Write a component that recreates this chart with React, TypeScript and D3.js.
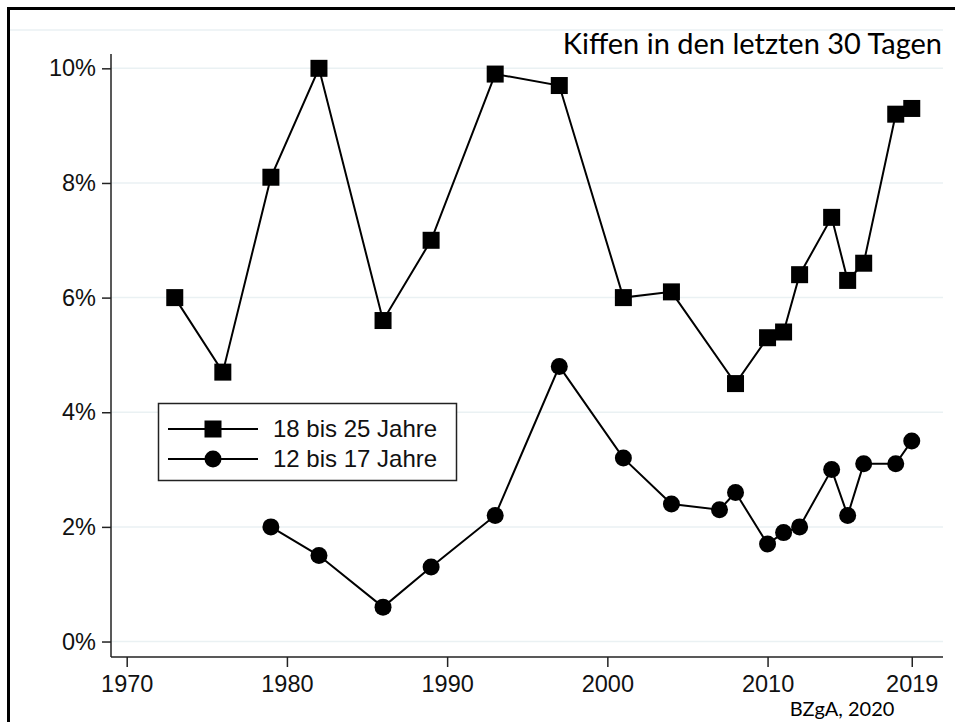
import React, { useEffect, useRef } from 'react';
import * as d3 from 'd3';

// years and values (percent) for both age groups
const yearsOlder = [1973, 1976, 1979, 1982, 1986, 1989, 1993, 1997, 2001, 2004, 2008, 2010, 2011, 2012, 2014, 2015, 2016, 2018, 2019];
const valuesOlder = [6.0, 4.7, 8.1, 10.0, 5.6, 7.0, 9.9, 9.7, 6.0, 6.1, 4.5, 5.3, 5.4, 6.4, 7.4, 6.3, 6.6, 9.2, 9.3];

const yearsYounger = [1979, 1982, 1986, 1989, 1993, 1997, 2001, 2004, 2007, 2008, 2010, 2011, 2012, 2014, 2015, 2016, 2018, 2019];
const valuesYounger = [2.0, 1.5, 0.6, 1.3, 2.2, 4.8, 3.2, 2.4, 2.3, 2.6, 1.7, 1.9, 2.0, 3.0, 2.2, 3.1, 3.1, 3.5];

const xTicks = [1970, 1980, 1990, 2000, 2010, 2019];
const yTicks = [0, 2, 4, 6, 8, 10];
const legendLabels = ['18 bis 25 Jahre', '12 bis 17 Jahre'];

const title = 'Kiffen in den letzten 30 Tagen';
const source = 'BZgA, 2020';

const App = () => {
  const svgRef = useRef(null);

  useEffect(() => {
    const svg = d3.select(svgRef.current);
    svg.selectAll('*').remove();

    const width = 955;
    const height = 722;
    const axisFont = 'Arial, "Liberation Sans", sans-serif';
    const textFont = 'Lato, "Open Sans", sans-serif';
    const gridColor = '#eaf1f3';

    // plot area
    const x = d3.scaleLinear().domain([1969.02, 2020.95]).range([111, 943]);
    const y = d3.scaleLinear().domain([-0.27, 10.25]).range([657, 54]);

    svg.append('rect').attr('width', width).attr('height', height).attr('fill', '#fff');

    // frame (left and top only visible)
    svg.append('path')
      .attr('d', `M8.5,${height + 5}V8.5H${width + 5}`)
      .attr('fill', 'none')
      .attr('stroke', '#000')
      .attr('stroke-width', 3);

    // faint outer line near top
    svg.append('line')
      .attr('x1', 10).attr('x2', 943)
      .attr('y1', 30).attr('y2', 30)
      .attr('stroke', gridColor).attr('stroke-width', 1.5);

    // gridlines
    svg.append('g')
      .selectAll('line')
      .data(yTicks)
      .join('line')
      .attr('x1', 111).attr('x2', 943)
      .attr('y1', d => y(d)).attr('y2', d => y(d))
      .attr('stroke', gridColor)
      .attr('stroke-width', 1.5);

    // y axis
    const yAxis = svg.append('g')
      .attr('transform', 'translate(111,0)')
      .call(d3.axisLeft(y).tickValues(yTicks).tickSize(9).tickPadding(6).tickFormat(d => `${d}%`));
    yAxis.select('.domain').attr('d', `M0,54V657`).attr('stroke', '#222').attr('stroke-width', 1.5);
    yAxis.selectAll('.tick line').attr('stroke', '#222').attr('stroke-width', 1.5);
    yAxis.selectAll('text')
      .attr('font-family', axisFont)
      .attr('font-size', 23.5)
      .attr('fill', '#111');

    // x axis
    const xAxis = svg.append('g')
      .attr('transform', 'translate(0,657)')
      .call(d3.axisBottom(x).tickValues(xTicks).tickSize(10).tickPadding(8).tickFormat(d3.format('d')));
    xAxis.select('.domain').attr('d', `M111,0H943`).attr('stroke', '#222').attr('stroke-width', 1.5);
    xAxis.selectAll('.tick line').attr('stroke', '#222').attr('stroke-width', 1.5);
    xAxis.selectAll('text')
      .attr('font-family', axisFont)
      .attr('font-size', 23.5)
      .attr('fill', '#111');

    const line = d3.line().x(d => x(d[0])).y(d => y(d[1]));
    const older = yearsOlder.map((yr, i) => [yr, valuesOlder[i]]);
    const younger = yearsYounger.map((yr, i) => [yr, valuesYounger[i]]);

    const markerSize = 17;

    // 18 bis 25 Jahre
    svg.append('path')
      .datum(older)
      .attr('d', line)
      .attr('fill', 'none')
      .attr('stroke', '#000')
      .attr('stroke-width', 2);
    svg.append('g')
      .selectAll('rect')
      .data(older)
      .join('rect')
      .attr('x', d => x(d[0]) - markerSize / 2)
      .attr('y', d => y(d[1]) - markerSize / 2)
      .attr('width', markerSize)
      .attr('height', markerSize)
      .attr('fill', '#000');

    // 12 bis 17 Jahre
    svg.append('path')
      .datum(younger)
      .attr('d', line)
      .attr('fill', 'none')
      .attr('stroke', '#000')
      .attr('stroke-width', 2);
    svg.append('g')
      .selectAll('circle')
      .data(younger)
      .join('circle')
      .attr('cx', d => x(d[0]))
      .attr('cy', d => y(d[1]))
      .attr('r', markerSize / 2)
      .attr('fill', '#000');

    // legend
    const legend = svg.append('g').attr('transform', 'translate(158,403)');
    legend.append('rect')
      .attr('x', 0.5).attr('y', 0.5)
      .attr('width', 298).attr('height', 77)
      .attr('fill', '#fff')
      .attr('stroke', '#222')
      .attr('stroke-width', 1.5);
    legendLabels.forEach((label, i) => {
      const cy = 26 + i * 30;
      legend.append('line')
        .attr('x1', 10).attr('x2', 100)
        .attr('y1', cy).attr('y2', cy)
        .attr('stroke', '#000').attr('stroke-width', 2);
      if (i === 0) {
        legend.append('rect')
          .attr('x', 55 - markerSize / 2).attr('y', cy - markerSize / 2)
          .attr('width', markerSize).attr('height', markerSize)
          .attr('fill', '#000');
      } else {
        legend.append('circle')
          .attr('cx', 55).attr('cy', cy).attr('r', markerSize / 2)
          .attr('fill', '#000');
      }
      legend.append('text')
        .attr('x', 115).attr('y', cy)
        .attr('dy', '0.35em')
        .attr('font-family', axisFont)
        .attr('font-size', 24)
        .attr('fill', '#111')
        .text(label);
    });

    // title and source
    svg.append('text')
      .attr('x', 942).attr('y', 54)
      .attr('text-anchor', 'end')
      .attr('font-family', textFont)
      .attr('font-size', 29)
      .attr('fill', '#000')
      .text(title);

    svg.append('text')
      .attr('x', 842).attr('y', 716)
      .attr('text-anchor', 'middle')
      .attr('font-family', textFont)
      .attr('font-size', 20)
      .attr('fill', '#000')
      .text(source);
  }, []);

  return (
    <svg
      ref={svgRef}
      width={955}
      height={722}
      style={{ position: 'absolute', left: 0, top: 0, display: 'block' }}
    />
  );
};

export default App;
